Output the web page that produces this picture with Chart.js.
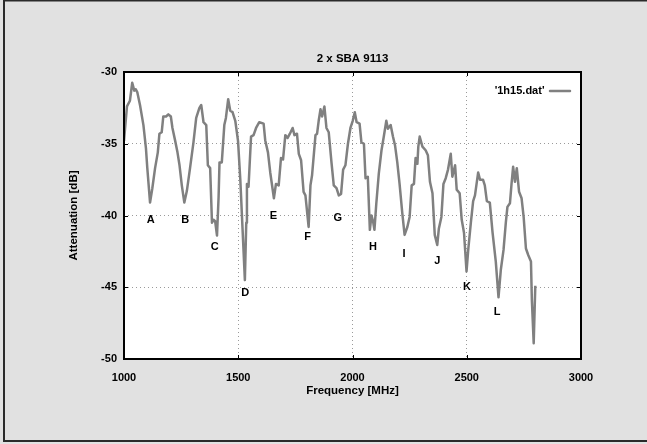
<!DOCTYPE html>
<html><head><meta charset="utf-8">
<script src="https://cdn.jsdelivr.net/npm/chart.js@4.4.1/dist/chart.umd.min.js"></script>
<style>html,body{margin:0;padding:0;background:#e1e1e1;}canvas{display:block;}</style>
</head><body>
<canvas id="c" width="647" height="444"></canvas>
<script>
const freqMHz = [1000,1013,1026,1036,1045,1051,1058,1070,1085,1096,1102,1114,1124,1136,1148,1155,1165,1172,1184,1194,1205,1212,1224,1234,1243,1253,1264,1275,1289,1304,1316,1330,1338,1348,1360,1367,1377,1385,1392,1399,1407,1414,1418,1428,1439,1446,1456,1465,1475,1487,1499,1509,1519,1529,1535,1538,1545,1556,1567,1578,1592,1611,1618,1630,1640,1656,1665,1677,1687,1696,1706,1716,1726,1738,1746,1757,1765,1775,1786,1794,1808,1816,1823,1838,1845,1852,1860,1867,1877,1886,1896,1908,1918,1930,1940,1950,1959,1969,1980,1991,2001,2010,2018,2031,2039,2050,2057,2067,2076,2083,2090,2096,2104,2115,2127,2137,2148,2155,2167,2177,2186,2196,2206,2218,2228,2240,2250,2259,2269,2276,2284,2288,2294,2306,2320,2330,2339,2350,2360,2371,2378,2389,2398,2408,2418,2430,2437,2449,2456,2469,2478,2488,2499,2507,2518,2528,2536,2550,2558,2571,2579,2588,2601,2613,2627,2639,2649,2661,2671,2678,2689,2696,2703,2711,2719,2729,2740,2749,2759,2769,2781,2785,2793,2800];
const attenDb = [-34.8,-32.4,-32.0,-30.75,-31.3,-31.2,-31.4,-32.3,-33.7,-35.3,-36.7,-39.1,-38.1,-36.7,-35.6,-34.3,-34.2,-33.1,-33.1,-32.95,-33.1,-33.9,-34.8,-35.6,-36.5,-37.9,-39.1,-38.3,-36.7,-34.9,-33.2,-32.5,-32.3,-33.5,-33.7,-36.5,-36.7,-40.5,-40.3,-40.4,-41.4,-38.7,-36.3,-36.3,-33.7,-33.2,-31.9,-32.7,-32.8,-33.4,-34.8,-37.5,-41.0,-44.5,-40.5,-37.8,-38.0,-34.5,-34.4,-33.9,-33.5,-33.6,-34.75,-35.6,-37.0,-38.8,-37.8,-37.9,-36.0,-36.1,-34.4,-34.6,-34.3,-33.9,-34.4,-34.3,-35.7,-36.15,-38.35,-38.6,-40.8,-37.9,-37.2,-34.4,-34.3,-33.4,-32.6,-33.1,-32.4,-33.9,-34.2,-36.3,-37.9,-38.1,-38.6,-38.5,-36.8,-36.5,-35.0,-33.9,-33.4,-32.8,-33.5,-33.6,-34.9,-35.0,-37.4,-37.3,-41.0,-40.0,-40.4,-41.0,-39.2,-37.1,-35.45,-34.5,-33.4,-33.95,-33.7,-34.5,-35.1,-36.3,-37.8,-39.85,-41.35,-40.8,-40.1,-37.9,-37.8,-36.0,-36.4,-35.2,-34.5,-35.2,-35.45,-35.8,-37.65,-38.45,-41.35,-42.05,-40.9,-40.1,-37.8,-37.4,-36.8,-35.7,-37.3,-36.5,-38.2,-38.45,-40.3,-41.2,-43.9,-42.3,-40.5,-39.0,-38.6,-37.0,-37.5,-37.5,-37.9,-39.0,-39.1,-41.2,-43.2,-45.7,-43.8,-42.4,-40.5,-39.4,-39.15,-37.8,-36.6,-37.65,-36.7,-38.35,-38.8,-40.1,-42.3,-42.75,-43.2,-45.9,-48.9,-44.9];
const markLabels = ['A','B','C','D','E','F','G','H','I','J','K','L'];
const markFreq = [1117,1268,1397,1531,1654,1804,1936,2090,2226,2371,2501,2633];
const markAtten = [-40.3,-40.3,-42.2,-45.4,-40.0,-41.5,-40.15,-42.2,-42.7,-43.2,-45.0,-46.7];
const seriesName = "'1h15.dat'";
const chartTitle = '2 x SBA 9113';
const xTitle = 'Frequency [MHz]';
const yTitle = 'Attenuation [dB]';

Chart.defaults.font.family = "'Liberation Sans', Arial, sans-serif";
Chart.defaults.font.size = 11;
Chart.defaults.font.weight = 'bold';
Chart.defaults.color = '#000';

const decor = {
  id: 'decor',
  beforeDraw(chart) {
    const {ctx, chartArea: a} = chart;
    ctx.save();
    ctx.fillStyle = '#e1e1e1';
    ctx.fillRect(0, 0, chart.width, chart.height);
    ctx.fillStyle = '#2a2a2a';
    ctx.fillRect(3, 0, 2, 442);
    ctx.fillRect(3, 0, 644, 1.5);
    ctx.fillRect(3, 440, 644, 2);
    ctx.fillStyle = '#fff';
    ctx.fillRect(a.left, a.top, a.right - a.left, a.bottom - a.top);
    ctx.restore();
  },
  afterLayout(chart) {
    const lg = chart.legend;
    if (!lg) return;
    const a = chart.chartArea;
    const pad = lg.options.labels.padding;
    const w = lg.width, h = lg.height;
    lg.left = a.right - 11 + pad - w;
    lg.right = lg.left + w;
    lg.top = a.top + 13.5 - pad;
    lg.bottom = lg.top + h;
  },
  afterDraw(chart) {
    const {ctx, chartArea: a, scales} = chart;
    ctx.save();
    ctx.strokeStyle = '#000';
    ctx.lineWidth = 1;
    ctx.beginPath();
    scales.x.ticks.forEach(t => {
      const px = Math.round(scales.x.getPixelForValue(t.value)) + 0.5;
      ctx.moveTo(px, a.bottom); ctx.lineTo(px, a.bottom - 4);
      ctx.moveTo(px, a.top); ctx.lineTo(px, a.top + 4);
    });
    scales.y.ticks.forEach(t => {
      const py = Math.round(scales.y.getPixelForValue(t.value)) + 0.5;
      ctx.moveTo(a.left, py); ctx.lineTo(a.left + 4, py);
      ctx.moveTo(a.right, py); ctx.lineTo(a.right - 4, py);
    });
    ctx.stroke();
    ctx.lineWidth = 2;
    ctx.strokeRect(a.left, a.top, a.right - a.left, a.bottom - a.top);
    ctx.fillStyle = '#000';
    ctx.font = "bold 11px 'Liberation Sans', Arial, sans-serif";
    ctx.textAlign = 'center';
    ctx.textBaseline = 'middle';
    markLabels.forEach((m, i) => {
      ctx.fillText(m, scales.x.getPixelForValue(markFreq[i]), scales.y.getPixelForValue(markAtten[i]));
    });
    ctx.restore();
  }
};

new Chart(document.getElementById('c'), {
  type: 'line',
  data: {
    datasets: [{
      label: seriesName,
      data: freqMHz.map((f, i) => ({x: f, y: attenDb[i]})),
      borderColor: '#808080',
      backgroundColor: '#808080',
      borderWidth: 2.5,
      pointRadius: 0,
      tension: 0,
      borderJoinStyle: 'round'
    }]
  },
  options: {
    responsive: false,
    animation: false,
    layout: {padding: {left: 58, right: 0, top: 0, bottom: 0}},
    plugins: {
      title: {display: true, text: chartTitle, font: {size: 11.5, weight: 'bold'}, color: '#000', padding: {top: 52, bottom: 6.2}},
      legend: {
        display: true, position: 'chartArea', align: 'start', rtl: true,
        labels: {boxWidth: 20, boxHeight: 0, padding: 10, color: '#000', font: {size: 11, weight: 'bold'}}
      },
      tooltip: {enabled: false}
    },
    scales: {
      x: {
        type: 'linear', position: 'bottom', min: 1000, max: 3000,
        ticks: {stepSize: 500, padding: 12.4, color: '#000', font: {size: 11, weight: 'bold'}, callback: v => String(v)},
        grid: {color: '#9a9a9a', lineWidth: 1, drawTicks: false},
        border: {display: false, dash: [1, 3]},
        title: {display: true, text: xTitle, color: '#000', font: {size: 11.5, weight: 'bold'}, padding: {top: 0, bottom: 46.1}},
        afterFit(s) { s.height = 85; }
      },
      y: {
        type: 'linear', position: 'left', min: -50, max: -30,
        ticks: {stepSize: 5, padding: 7, color: '#000', font: {size: 11, weight: 'bold'}, callback: v => String(v)},
        grid: {color: '#9a9a9a', lineWidth: 1, drawTicks: false},
        border: {display: false, dash: [1, 3]},
        title: {display: true, text: yTitle, color: '#000', font: {size: 11.5, weight: 'bold'}, padding: {top: 8.5, bottom: 0}},
        afterFit(s) { s.width = 66; }
      },
      y2: {
        type: 'linear', position: 'right', min: -50, max: -30,
        ticks: {display: false},
        grid: {display: false, drawTicks: false},
        border: {display: false},
        afterFit(s) { s.width = 66; }
      }
    }
  },
  plugins: [decor]
});
</script>
</body></html>
